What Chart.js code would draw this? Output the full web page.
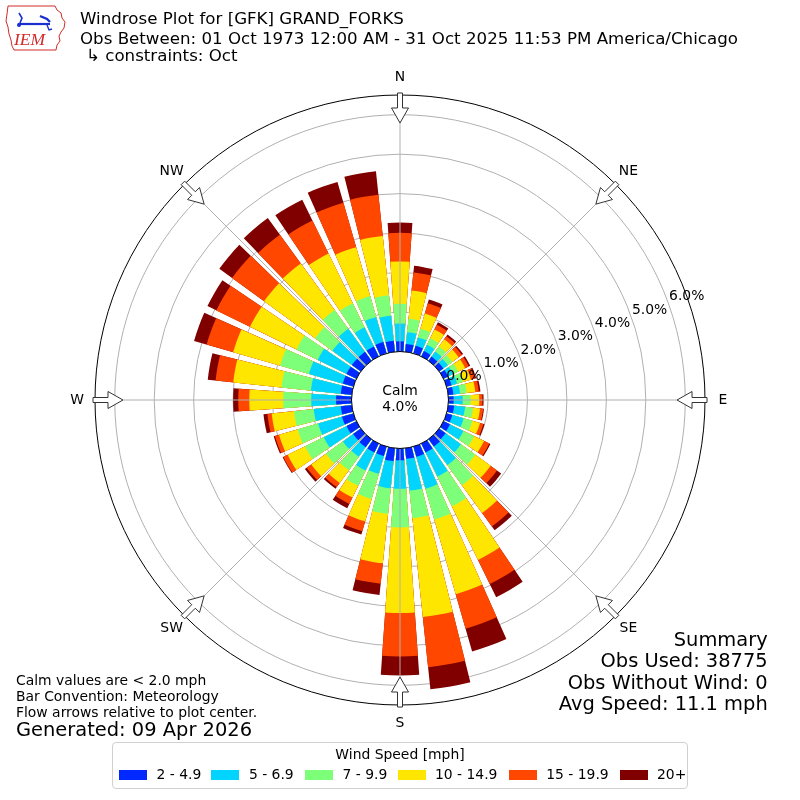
<!DOCTYPE html>
<html>
<head>
<meta charset="utf-8">
<script src="https://cdn.jsdelivr.net/npm/chart.js@4/dist/chart.umd.min.js"></script>
<style>
  html, body { margin: 0; padding: 0; background: #fff; }
  #wrap { position: relative; width: 800px; height: 800px; overflow: hidden; font-family: "DejaVu Sans", sans-serif; color: #000; }
  #c { position: absolute; left: 0; top: 0; }
  .t { position: absolute; white-space: nowrap; line-height: 1; }
  .ttl { font-size: 16.67px; left: 80px; }
  .note { font-size: 13.9px; left: 16px; }
  .sum { font-size: 19.44px; right: 32.3px; text-align: right; }
  #legend { position: absolute; left: 112px; top: 742px; width: 576px; height: 47px; border: 1px solid #d0d0d0; border-radius: 4px; box-sizing: border-box; }
  #legend .lt { position: absolute; left: 0; width: 100%; text-align: center; top: 5px; font-size: 13.9px; line-height: 1; }
  .sw { position: absolute; width: 28px; height: 10px; top: 27px; }
  .lab { position: absolute; top: 25px; font-size: 13.9px; line-height: 1; }
</style>
</head>
<body>
<div id="wrap">
  <canvas id="c" width="800" height="800"></canvas>
  <svg style="position:absolute;left:0;top:0" width="70" height="54" viewBox="0 0 70 54">
    <path d="M8,6 L55,6 L57,10 L61,13 L62,18 L65,22 L64,28 L61,32 L59,36 L60,41 L57,45 L56,50 L14,50 L12,46 L11,40 L9,34 L8,27 L6,21 L7,14 Z" fill="none" stroke="#d42a2a" stroke-width="1"/>
    <path d="M18,24 L50,24" stroke="#1a2fd0" stroke-width="2.2"/>
    <path d="M19,13 L22,18 L20,23" stroke="#1a2fd0" stroke-width="1.6" fill="none"/>
    <path d="M40,16 L47,19 L50,22" stroke="#1a2fd0" stroke-width="2.4" fill="none"/>
    <path d="M47,25 L49,30 L52,29" stroke="#1a2fd0" stroke-width="1.4" fill="none"/>
    <circle cx="19" cy="25" r="2" fill="#1a2fd0"/>
    <text x="14" y="45" font-family="Liberation Serif, serif" font-style="italic" font-size="17.5" fill="#d42a2a">IEM</text>
  </svg>
  <div class="t ttl" style="top:10.9px">Windrose Plot for [GFK] GRAND_FORKS</div>
  <div class="t ttl" style="top:30.6px">Obs Between: 01 Oct 1973 12:00 AM - 31 Oct 2025 11:53 PM America/Chicago</div>
  <div class="t ttl" style="top:47.6px;left:86px">↳ constraints: Oct</div>

  <div class="t note" style="top:674.2px">Calm values are &lt; 2.0 mph</div>
  <div class="t note" style="top:689.9px">Bar Convention: Meteorology</div>
  <div class="t note" style="top:705.5px">Flow arrows relative to plot center.</div>
  <div class="t" style="left:16px;top:719.6px;font-size:19.44px">Generated: 09 Apr 2026</div>

  <div class="t sum" style="top:630.3px">Summary</div>
  <div class="t sum" style="top:651.3px">Obs Used: 38775</div>
  <div class="t sum" style="top:672.9px">Obs Without Wind: 0</div>
  <div class="t sum" style="top:694.3px">Avg Speed: 11.1 mph</div>

  <div id="legend"><div class="lt">Wind Speed [mph]</div></div>
</div>
<script>
// ---- data (percent of observations), directions clockwise from North ----
const directions = [0,10,20,30,40,50,60,70,80,90,100,110,120,130,140,150,160,170,180,190,200,210,220,230,240,250,260,270,280,290,300,310,320,330,340,350];
const speedLabels = ['2 - 4.9', '5 - 6.9', '7 - 9.9', '10 - 14.9', '15 - 19.9', '20+'];
const speedColors = ['#0028ff', '#00d4ff', '#7dff7a', '#ffe600', '#ff4700', '#800000'];
const calmPercent = 4.0;
const ringValues = [0, 1, 2, 3, 4, 5, 6];
const compassLabels = ['N', 'NE', 'E', 'SE', 'S', 'SW', 'W', 'NW'];

const pct2to5   = [0.26,0.20,0.20,0.15,0.13,0.13,0.13,0.13,0.13,0.13,0.15,0.15,0.18,0.20,0.23,0.25,0.27,0.27,0.30,0.33,0.25,0.25,0.25,0.24,0.28,0.30,0.28,0.39,0.28,0.28,0.28,0.28,0.28,0.28,0.30,0.28];
const pct5to7   = [0.45,0.30,0.22,0.18,0.16,0.14,0.14,0.15,0.17,0.23,0.28,0.30,0.38,0.48,0.58,0.68,0.84,0.81,0.72,0.69,0.47,0.51,0.30,0.32,0.64,0.63,0.69,0.63,0.76,0.89,0.81,0.61,0.72,0.54,0.66,0.64];
const pct7to10  = [0.50,0.34,0.23,0.18,0.16,0.14,0.14,0.15,0.17,0.20,0.20,0.23,0.30,0.45,0.63,0.84,0.81,0.70,0.98,0.65,0.66,0.43,0.42,0.53,0.53,0.54,0.50,0.71,0.75,0.76,0.60,0.54,0.59,0.68,0.55,0.52];
const pct10to15 = [1.07,0.72,0.40,0.25,0.22,0.20,0.20,0.21,0.22,0.22,0.18,0.20,0.28,0.48,0.87,1.51,1.97,2.52,2.17,1.26,0.59,0.33,0.40,0.46,0.49,0.49,0.57,0.86,1.23,1.24,1.31,1.60,1.46,1.40,1.29,1.51];
const pct15to20 = [0.73,0.46,0.27,0.13,0.10,0.10,0.10,0.10,0.09,0.08,0.08,0.09,0.15,0.20,0.42,0.68,0.91,1.28,1.10,0.52,0.26,0.18,0.13,0.14,0.12,0.11,0.11,0.28,0.45,0.70,0.95,1.00,0.90,0.93,1.17,1.05];
const pct20plus = [0.26,0.17,0.10,0.07,0.05,0.04,0.04,0.04,0.04,0.03,0.02,0.03,0.03,0.13,0.12,0.37,0.60,0.56,0.48,0.29,0.09,0.12,0.05,0.06,0.02,0.03,0.10,0.13,0.20,0.33,0.25,0.40,0.52,0.59,0.55,0.60];

const speedBins = [pct2to5, pct5to7, pct7to10, pct10to15, pct15to20, pct20plus];

// ---- radial scale setup: 0% sits at the calm circle edge ----
const R_MAX = 6.5;
const R_MIN = -1.229;
const BAR_DEG = 8, GAP_DEG = 2;

// each direction gets a bar slot and a (transparent) gap slot
const labels = [];
directions.forEach(d => { labels.push(d + '°'); labels.push(''); });

const datasets = speedBins.map((_, k) => {
  const data = [], bg = [], ang = [];
  directions.forEach((d, i) => {
    let cum = 0;
    for (let j = 0; j <= k; j++) cum += speedBins[j][i];
    data.push(cum); bg.push(speedColors[k]); ang.push(BAR_DEG);
    data.push(R_MIN); bg.push('rgba(0,0,0,0)'); ang.push(GAP_DEG);
  });
  return { label: speedLabels[k], data, backgroundColor: bg, angle: ang, borderWidth: 0 };
});

// legend (HTML)
const legendX = [6, 98.4, 192, 284.5, 395.7, 506.5];
const legendEl = document.getElementById('legend');
speedLabels.forEach((lab, k) => {
  const sw = document.createElement('div');
  sw.className = 'sw'; sw.style.left = legendX[k] + 'px'; sw.style.background = speedColors[k];
  legendEl.appendChild(sw);
  const tx = document.createElement('div');
  tx.className = 'lab'; tx.style.left = (legendX[k] + 37.5) + 'px'; tx.textContent = lab;
  legendEl.appendChild(tx);
});

const decor = {
  id: 'decor',
  afterDraw(chart) {
    const s = chart.scales.r;
    const ctx = chart.ctx;
    const cx = s.xCenter, cy = s.yCenter;
    const R = s.getDistanceFromCenterForValue(R_MAX);
    const r0 = s.getDistanceFromCenterForValue(0);
    ctx.save();
    // radial lines every 45 deg
    ctx.strokeStyle = '#b0b0b0'; ctx.lineWidth = 1;
    for (let k = 0; k < 8; k++) {
      const a = k * Math.PI / 4;
      ctx.beginPath();
      ctx.moveTo(cx, cy);
      ctx.lineTo(cx + R * Math.sin(a), cy - R * Math.cos(a));
      ctx.stroke();
    }
    // calm circle
    ctx.beginPath();
    ctx.arc(cx, cy, r0, 0, Math.PI * 2);
    ctx.fillStyle = '#fff'; ctx.fill();
    ctx.strokeStyle = '#000'; ctx.lineWidth = 1; ctx.stroke();
    ctx.fillStyle = '#000';
    ctx.font = '13.9px "DejaVu Sans"';
    ctx.textAlign = 'center'; ctx.textBaseline = 'middle';
    ctx.fillText('Calm', cx, cy - 8.5);
    ctx.fillText(calmPercent.toFixed(1) + '%', cx, cy + 7.5);
    // ring labels
    const la = 19.8 * Math.PI / 180;
    ctx.textAlign = 'left'; ctx.textBaseline = 'alphabetic';
    ringValues.forEach(v => {
      const r = s.getDistanceFromCenterForValue(v);
      ctx.fillText(v.toFixed(1) + '%', cx + r * Math.cos(la) + 0.7, cy - r * Math.sin(la) - 3.2);
    });
    // flow arrows + compass labels
    compassLabels.forEach((lab, k) => {
      const a = k * Math.PI / 4;
      const ux = Math.sin(a), uy = -Math.cos(a);
      const px = Math.cos(a), py = Math.sin(a);
      const P = (r, w) => [cx + ux * r + px * w, cy + uy * r + py * w];
      const pts = [P(307, -2.5), P(307, 2.5), P(292, 2.5), P(292, 8.5), P(277, 0), P(292, -8.5), P(292, -2.5)];
      ctx.beginPath();
      ctx.moveTo(pts[0][0], pts[0][1]);
      for (let i = 1; i < pts.length; i++) ctx.lineTo(pts[i][0], pts[i][1]);
      ctx.closePath();
      ctx.fillStyle = '#fff'; ctx.fill();
      ctx.strokeStyle = '#333'; ctx.lineWidth = 1; ctx.stroke();
      ctx.fillStyle = '#000';
      ctx.textAlign = 'center'; ctx.textBaseline = 'middle';
      const lr = 323;
      ctx.fillText(lab, cx + ux * lr, cy + uy * lr);
    });
    ctx.restore();
  }
};

new Chart(document.getElementById('c'), {
  type: 'polarArea',
  data: { labels, datasets },
  options: {
    responsive: false,
    animation: false,
    layout: { padding: { left: 95, right: 95, top: 95, bottom: 95 } },
    plugins: { legend: { display: false }, tooltip: { enabled: false }, title: { display: false } },
    scales: {
      r: {
        min: R_MIN, max: R_MAX,
        startAngle: -BAR_DEG / 2,
        z: 1,
        ticks: { display: false, stepSize: 1 },
        pointLabels: { display: false },
        angleLines: { display: false },
        grid: {
          circular: true,
          lineWidth: 1,
          color: (c) => {
            const v = c.tick ? c.tick.value : 0;
            if (v < 0) return 'rgba(0,0,0,0)';
            if (v >= R_MAX - 1e-6) return '#000';
            return '#b0b0b0';
          }
        }
      }
    }
  },
  plugins: [decor]
});
</script>
</body>
</html>
